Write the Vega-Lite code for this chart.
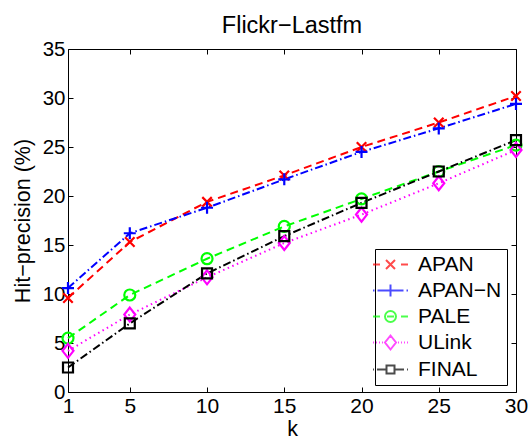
{
  "$schema": "https://vega.github.io/schema/vega-lite/v6.json",
  "width": 448,
  "height": 343,
  "autosize": {"type": "none"},
  "padding": {"left": 68, "top": 49, "right": 13, "bottom": 47},
  "background": "white",
  "title": {"text": "Flickr−Lastfm", "font": "Liberation Sans", "fontSize": 23.5, "fontWeight": "normal", "color": "black", "offset": 2, "anchor": "middle"},
  "config": {
    "view": {"stroke": null},
    "axis": {"domainColor": "black", "domainWidth": 1, "tickColor": "black", "tickSize": -5, "tickWidth": 1, "labelFont": "Liberation Sans", "labelFontSize": 21, "labelColor": "black", "titleFont": "Liberation Sans", "titleFontSize": 21.5, "titleFontWeight": "normal", "titleColor": "black", "grid": false, "labelFlush": false, "labelOverlap": false},
    "legend": {"labelFont": "Liberation Sans", "labelFontSize": 21, "labelColor": "black"}
  },
  "data": {"values": [
    {"k": 1, "method": "APAN", "value": 9.6},
    {"k": 5, "method": "APAN", "value": 15.3},
    {"k": 10, "method": "APAN", "value": 19.4},
    {"k": 15, "method": "APAN", "value": 22.1},
    {"k": 20, "method": "APAN", "value": 25.0},
    {"k": 25, "method": "APAN", "value": 27.5},
    {"k": 30, "method": "APAN", "value": 30.2},
    {"k": 1, "method": "APAN−N", "value": 10.6},
    {"k": 5, "method": "APAN−N", "value": 16.2},
    {"k": 10, "method": "APAN−N", "value": 18.8},
    {"k": 15, "method": "APAN−N", "value": 21.7},
    {"k": 20, "method": "APAN−N", "value": 24.5},
    {"k": 25, "method": "APAN−N", "value": 26.9},
    {"k": 30, "method": "APAN−N", "value": 29.4},
    {"k": 1, "method": "PALE", "value": 5.5},
    {"k": 5, "method": "PALE", "value": 9.9},
    {"k": 10, "method": "PALE", "value": 13.6},
    {"k": 15, "method": "PALE", "value": 16.9},
    {"k": 20, "method": "PALE", "value": 19.7},
    {"k": 25, "method": "PALE", "value": 22.5},
    {"k": 30, "method": "PALE", "value": 25.2},
    {"k": 1, "method": "ULink", "value": 4.2},
    {"k": 5, "method": "ULink", "value": 7.9},
    {"k": 10, "method": "ULink", "value": 11.7},
    {"k": 15, "method": "ULink", "value": 15.2},
    {"k": 20, "method": "ULink", "value": 18.1},
    {"k": 25, "method": "ULink", "value": 21.3},
    {"k": 30, "method": "ULink", "value": 24.7},
    {"k": 1, "method": "FINAL", "value": 2.5},
    {"k": 5, "method": "FINAL", "value": 7.0},
    {"k": 10, "method": "FINAL", "value": 12.1},
    {"k": 15, "method": "FINAL", "value": 15.9},
    {"k": 20, "method": "FINAL", "value": 19.3},
    {"k": 25, "method": "FINAL", "value": 22.5},
    {"k": 30, "method": "FINAL", "value": 25.7}
  ]},
  "resolve": {
    "scale": {"color": "independent", "shape": "independent"},
    "axis": {"x": "independent", "y": "independent"}
  },
  "layer": [
    {
      "mark": {"type": "line", "strokeWidth": 2},
      "encoding": {
        "x": {"field": "k", "type": "quantitative", "scale": {"domain": [1, 30], "nice": false, "zero": false},
              "axis": {"orient": "bottom", "values": [1, 5, 10, 15, 20, 25, 30], "title": "k", "titlePadding": 2, "labelPadding": 8, "labelOverlap": false}},
        "y": {"field": "value", "type": "quantitative", "scale": {"domain": [0, 35], "nice": false, "zero": true},
              "axis": {"orient": "left", "values": [0, 5, 10, 15, 20, 25, 30, 35], "title": "Hit−precision (%)", "titlePadding": 8, "labelPadding": 8, "labelFontSize": 20.5, "labelOverlap": false}},
        "color": {"field": "method", "type": "nominal", "legend": null,
                  "scale": {"domain": ["APAN", "APAN−N", "PALE", "ULink", "FINAL"], "range": ["#ff0000", "#0000ff", "#00ff00", "#ff00ff", "#000000"]}},
        "strokeDash": {"field": "method", "type": "nominal", "legend": null,
                  "scale": {"domain": ["APAN", "APAN−N", "PALE", "ULink", "FINAL"], "range": [[8, 5], [8, 3, 1.5, 3], [8, 5], [1.5, 3.5], [8, 3, 1.5, 3]]}}
      }
    },
    {
      "mark": {"type": "point", "filled": false, "strokeWidth": 2.2, "size": 100, "opacity": 1},
      "encoding": {
        "x": {"field": "k", "type": "quantitative", "axis": null},
        "y": {"field": "value", "type": "quantitative", "axis": null},
        "color": {"field": "method", "type": "nominal", "legend": null,
                  "scale": {"domain": ["APAN", "APAN−N", "PALE", "ULink", "FINAL"], "range": ["#ff0000", "#0000ff", "#00ff00", "#ff00ff", "#000000"]}},
        "shape": {"field": "method", "type": "nominal", "legend": null,
                  "scale": {"domain": ["APAN", "APAN−N", "PALE", "ULink", "FINAL"], "range": [
                    "M-0.95,-0.95L0.95,0.95M-0.95,0.95L0.95,-0.95",
                    "M-1.2,0L1.2,0M0,-1.2L0,1.2",
                    "M-1.1,0A1.1,1.1 0 1,0 1.1,0A1.1,1.1 0 1,0 -1.1,0Z",
                    "M0,-1.4L1.1,0L0,1.4L-1.1,0Z",
                    "M-1,-1L1,-1L1,1L-1,1Z"
                  ]}}
      }
    },
    {
      "transform": [{"filter": "false"}],
      "mark": {"type": "point", "filled": false, "strokeWidth": 2, "size": 100},
      "encoding": {
        "x": {"field": "k", "type": "quantitative", "axis": {"orient": "top", "values": [1, 5, 10, 15, 20, 25, 30], "labels": false, "title": null}},
        "y": {"field": "value", "type": "quantitative", "axis": {"orient": "right", "values": [0, 5, 10, 15, 20, 25, 30, 35], "labels": false, "title": null}},
        "color": {"field": "method", "type": "nominal",
                  "scale": {"domain": ["APAN", "APAN−N", "PALE", "ULink", "FINAL"], "range": ["#ff0000", "#0000ff", "#00ff00", "#ff00ff", "#000000"]},
                  "legend": {"title": null, "orient": "none", "legendX": 307, "legendY": 200, "padding": 5, "strokeColor": "black", "fillColor": "white", "symbolSize": 100, "symbolStrokeWidth": 2, "rowPadding": 4, "labelOffset": 17, "labelLimit": 300}},
        "shape": {"field": "method", "type": "nominal",
                  "scale": {"domain": ["APAN", "APAN−N", "PALE", "ULink", "FINAL"], "range": [
                    "M-3.5,0L-2.1,0M-0.9,-0.9L0.9,0.9M-0.9,0.9L0.9,-0.9M2.1,0L3.5,0",
                    "M-3.5,0L-3.2,0M-2.6,0L2.6,0M0,-1.2L0,1.2M3.2,0L3.5,0",
                    "M-3.5,0L-2.1,0M-1.1,0A1.1,1.1 0 1,0 1.1,0A1.1,1.1 0 1,0 -1.1,0M-0.7,0L0.7,0M2.1,0L3.5,0",
                    "M-3.5,0L-3.3,0M-2.9,0L-2.7,0M-2.3,0L-2.1,0M-1.7,0L-1.5,0M0,-1.4L1.1,0L0,1.4L-1.1,0ZM1.5,0L1.7,0M2.1,0L2.3,0M2.7,0L2.9,0M3.3,0L3.5,0",
                    "M-3.5,0L-3.3,0M-2.7,0L-0.8,0M-0.8,-0.8L0.8,-0.8L0.8,0.8L-0.8,0.8ZM0.8,0L2.7,0M3.3,0L3.5,0"
                  ]},
                  "legend": {"title": null, "orient": "none", "legendX": 307, "legendY": 200, "padding": 5, "strokeColor": "black", "fillColor": "white", "symbolSize": 100, "symbolStrokeWidth": 2, "rowPadding": 4, "labelOffset": 17, "labelLimit": 300}}
      }
    }
  ]
}
